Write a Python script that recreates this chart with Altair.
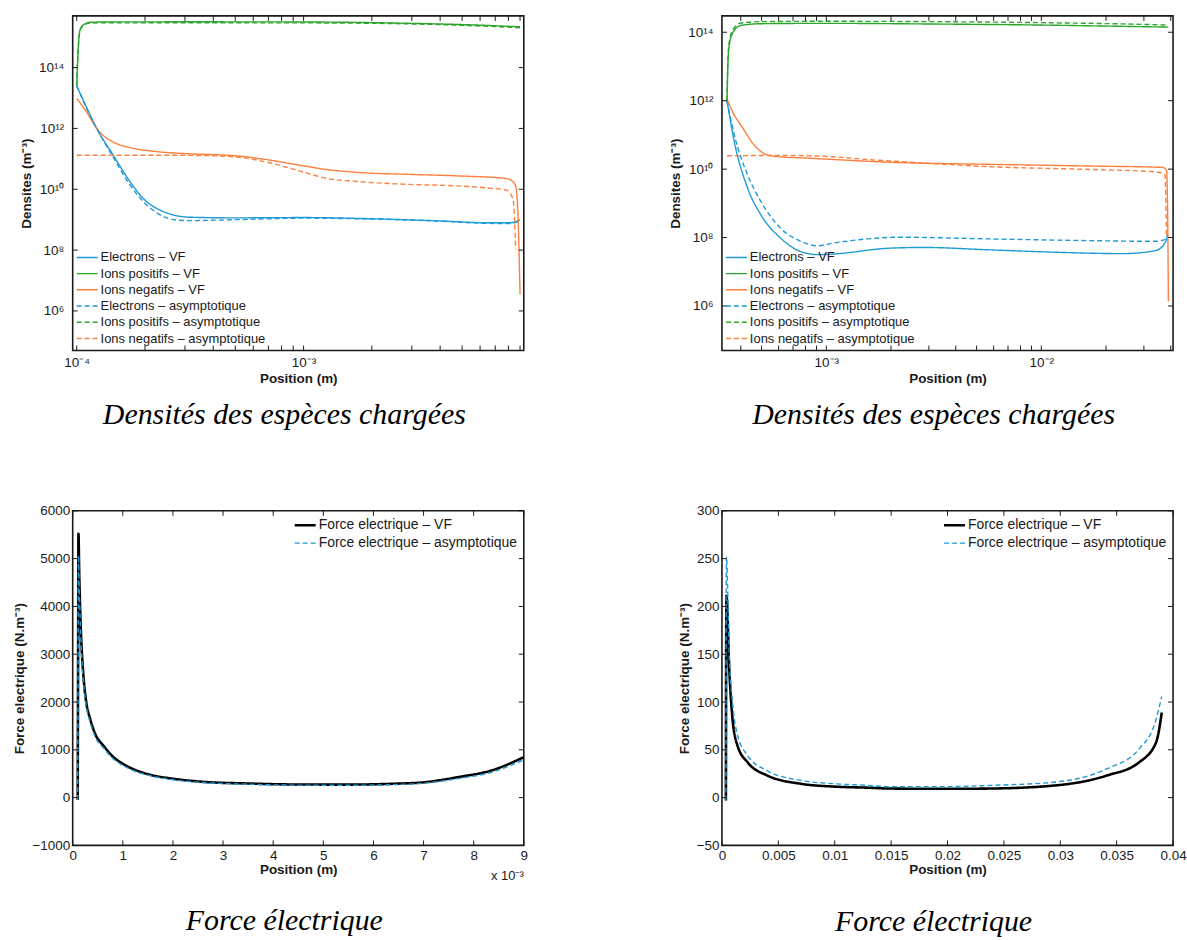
import math

import altair as alt
import pandas as pd

FONT = "Liberation Sans"
CAPTION_FONT = "Liberation Serif"
INK = "#1a1a1a"

# ---------------------------------------------------------------- series styling
SERIES = [
    "Electrons – VF",
    "Ions positifs – VF",
    "Ions negatifs – VF",
    "Electrons – asymptotique",
    "Ions positifs – asymptotique",
    "Ions negatifs – asymptotique",
]
SERIES_COLORS = ["#1e9ad6", "#2ba52b", "#fd7f3d", "#1e9ad6", "#2ba52b", "#fd7f3d"]
SERIES_DASHES = [[1, 0], [1, 0], [1, 0], [5, 3], [5, 3], [5, 3]]

FORCE_SERIES = ["Force electrique – VF", "Force electrique – asymptotique"]
FORCE_COLORS = ["#000000", "#1e9ad6"]
FORCE_DASHES = [[1, 0], [5, 3]]
FORCE_WIDTHS = [2.6, 1.4]

# legend key: a horizontal stroke 1.5x wider than the symbol box
LEGEND_KEY = "M-1.5,0H1.5"

# ---------------------------------------------------------------- short gap (0.1 mm -> 9 mm)
# densities (m^-3) versus position (m)
TL_E_VF_X = [1.0e-4, 1.096e-4, 1.225e-4, 1.449e-4, 1.718e-4, 1.963e-4, 2.404e-4, 3.162e-4,
             5.012e-4, 1.0e-3, 1.995e-3, 3.981e-3, 6.310e-3, 7.943e-3, 8.710e-3, 9.0e-3]
TL_E_VF_Y = [2.51e13, 5.62e12, 1.0e12, 1.318e11, 1.778e10, 5.01e9, 1.862e9, 1.202e9,
             1.148e9, 1.175e9, 1.072e9, 9.12e8, 7.94e8, 7.94e8, 8.71e8, 1.0e9]

TL_E_AS_X = [1.0e-4, 1.096e-4, 1.225e-4, 1.449e-4, 1.718e-4, 1.963e-4, 2.404e-4, 2.818e-4,
             3.162e-4, 5.012e-4, 1.0e-3, 1.995e-3, 3.981e-3, 6.310e-3, 7.943e-3, 8.710e-3, 9.0e-3]
TL_E_AS_Y = [2.51e13, 5.25e12, 1.0e12, 1.122e11, 1.380e10, 3.98e9, 1.288e9, 9.55e8,
             9.33e8, 1.0e9, 1.122e9, 1.047e9, 8.91e8, 7.59e8, 7.41e8, 8.32e8, 9.55e8]

TL_PI_X = [1.0e-4, 1.017e-4, 1.035e-4, 1.072e-4, 1.148e-4, 1.31e-4, 3.162e-4, 1.0e-3,
           3.162e-3, 6.31e-3, 9.0e-3]
TL_PI_VF_Y = [2.51e13, 5.25e14, 1.778e15, 2.57e15, 3.09e15, 3.16e15, 3.2e15, 3.16e15,
              2.82e15, 2.45e15, 2.19e15]
TL_PI_AS_Y = [2.51e13, 5.0e14, 1.70e15, 2.45e15, 2.9e15, 2.95e15, 2.97e15, 2.95e15,
              2.7e15, 2.3e15, 2.04e15]

TL_NI_VF_X = [1.0e-4, 1.107e-4, 1.225e-4, 1.309e-4, 1.449e-4, 1.718e-4, 2.173e-4, 3.041e-4,
              3.606e-4, 5.058e-4, 7.079e-4, 1.0e-3, 1.259e-3, 1.758e-3, 2.911e-3, 4.786e-3,
              7.727e-3, 8.279e-3, 8.610e-3, 8.81e-3, 9.0e-3]
TL_NI_VF_Y = [9.77e12, 3.39e12, 1.0e12, 5.89e11, 3.55e11, 2.34e11, 1.78e11, 1.48e11,
              1.41e11, 1.26e11, 9.12e10, 5.89e10, 4.47e10, 3.55e10, 3.09e10, 2.75e10,
              2.29e10, 1.91e10, 1.26e10, 1.58e9, 3.55e6]

TL_NI_AS_X = [1.0e-4, 1.995e-4, 3.548e-4, 5.058e-4, 7.079e-4, 9.91e-4, 1.259e-3, 1.758e-3,
              2.911e-3, 4.786e-3, 6.761e-3, 7.762e-3, 8.128e-3, 8.414e-3, 8.610e-3]
TL_NI_AS_Y = [1.318e11, 1.318e11, 1.288e11, 1.148e11, 7.41e10, 3.72e10, 2.29e10, 1.78e10,
              1.445e10, 1.288e10, 1.072e10, 9.55e9, 7.41e9, 3.98e9, 1.047e8]

# electric force (N.m^-3) versus position (m)
BL_X = [1.0e-4, 1.08e-4, 1.15e-4, 1.3e-4, 1.5e-4, 1.75e-4, 2.0e-4, 2.3e-4, 2.7e-4, 3.5e-4,
        4.5e-4, 6.2e-4, 8.0e-4, 9.5e-4, 1.2e-3, 1.6e-3, 2.0e-3, 2.6e-3, 3.5e-3, 4.4e-3,
        5.5e-3, 6.4e-3, 7.0e-3, 7.7e-3, 8.36e-3, 9.0e-3]
BL_VF = [-50, 3000, 5520, 4700, 3900, 3200, 2750, 2350, 2000, 1640,
         1330, 1080, 860, 740, 600, 465, 395, 330, 295, 275,
         272, 290, 320, 430, 570, 845]
BL_AS = [-50, 2800, 5070, 4400, 3700, 3050, 2620, 2250, 1920, 1570,
         1270, 1030, 820, 705, 570, 445, 375, 315, 280, 262,
         258, 272, 300, 400, 530, 790]

# ---------------------------------------------------------------- long gap (0.35 mm -> 39 mm)
TR_E_VF_X = [3.451e-4, 3.733e-4, 4.305e-4, 4.966e-4, 6.138e-4, 7.603e-4, 9.078e-4, 1.084e-3,
             1.982e-3, 2.831e-3, 5.768e-3, 1.175e-2, 2.388e-2, 3.404e-2, 3.793e-2, 3.873e-2]
TR_E_VF_Y = [1.0e12, 6.31e10, 2.754e9, 4.571e8, 9.55e7, 3.89e7, 3.162e7, 3.311e7,
             4.898e7, 5.129e7, 4.365e7, 3.715e7, 3.388e7, 4.169e7, 7.762e7, 1.202e8]

TR_E_AS_X = [3.451e-4, 3.733e-4, 4.305e-4, 4.966e-4, 6.138e-4, 7.603e-4, 9.078e-4, 1.084e-3,
             1.549e-3, 2.208e-3, 5.768e-3, 1.675e-2, 3.404e-2, 3.793e-2, 3.873e-2]
TR_E_AS_Y = [1.0e12, 1.0e11, 6.761e9, 1.122e9, 1.862e8, 7.762e7, 5.754e7, 6.918e7,
             9.12e7, 1.023e8, 9.12e7, 8.128e7, 7.762e7, 9.12e7, 1.202e8]

TR_PI_X = [3.451e-4, 3.483e-4, 3.524e-4, 3.681e-4, 4.009e-4, 5.012e-4, 1.0e-3, 3.162e-3,
           1.0e-2, 2.512e-2, 3.9e-2]
TR_PI_VF_Y = [1.0e12, 1.0e13, 3.63e13, 1.0e14, 1.585e14, 1.778e14, 1.82e14, 1.738e14,
              1.622e14, 1.479e14, 1.413e14]
TR_PI_AS_Y = [1.0e12, 1.259e13, 4.467e13, 1.202e14, 1.862e14, 2.042e14, 2.089e14, 2.042e14,
              1.905e14, 1.738e14, 1.622e14]

TR_NI_VF_X = [3.451e-4, 3.715e-4, 4.009e-4, 4.624e-4, 5.333e-4, 6.31e-4, 7.603e-4, 1.084e-3,
              1.982e-3, 5.768e-3, 1.675e-2, 3.656e-2, 3.819e-2, 3.864e-2, 3.9e-2]
TR_NI_VF_Y = [1.122e12, 3.98e11, 1.905e11, 5.01e10, 2.57e10, 2.24e10, 2.14e10, 1.905e10,
              1.585e10, 1.38e10, 1.23e10, 1.122e10, 9.33e9, 1.0e9, 1.38e6]

TR_NI_AS_X = [3.451e-4, 6.31e-4, 1.084e-3, 1.549e-3, 2.208e-3, 5.768e-3, 1.675e-2, 3.404e-2,
              3.758e-2, 3.82e-2]
TR_NI_AS_Y = [2.455e10, 2.512e10, 2.291e10, 1.905e10, 1.66e10, 1.175e10, 9.77e9, 8.32e9,
              6.76e9, 1.202e8]

BR_X = [3.5e-4, 3.7e-4, 4.0e-4, 6.5e-4, 9.4e-4, 1.39e-3, 2.27e-3, 4.04e-3, 6.98e-3, 1.0e-2,
        1.29e-2, 1.49e-2, 2.0e-2, 2.38e-2, 2.96e-2, 3.41e-2, 3.7e-2, 3.85e-2, 3.9e-2]
BR_VF = [-3, 150, 211, 134, 82, 54, 37, 23, 14.5, 11.5,
         10.4, 9.5, 9.2, 9.5, 12.8, 23, 37, 58, 89]
BR_AS = [-3, 170, 252, 148, 99, 65, 44, 28, 18, 14.5,
         12.8, 11.5, 11.5, 12.8, 16.3, 30, 51, 82, 106]

# ---------------------------------------------------------------- axes
TL_X_DOMAIN = [9.6e-5, 9.35e-3]
TR_X_DOMAIN = [3.27e-4, 4.1e-2]
TL_Y_DOMAIN = [5e4, 5e15]
TR_Y_DOMAIN = [5e4, 3e14]
DENSITY_Y_TICKS = [1e6, 1e8, 1e10, 1e12, 1e14]
TL_X_LABELS = [1e-4, 1e-3]
TR_X_LABELS = [1e-3, 1e-2]
LOG_MINOR = [m * 10.0 ** e for e in (-5, -4, -3, -2) for m in range(1, 10)]

BL_X_TICKS = [0, 0.001, 0.002, 0.003, 0.004, 0.005, 0.006, 0.007, 0.008, 0.009]
BL_Y_TICKS = [-1000, 0, 1000, 2000, 3000, 4000, 5000, 6000]
BR_X_TICKS = [0, 0.005, 0.01, 0.015, 0.02, 0.025, 0.03, 0.035, 0.04]
BR_Y_TICKS = [-50, 0, 50, 100, 150, 200, 250, 300]

W = 453
H = 336
TICK = 5

SUPERSCRIPT = str.maketrans("-0123456789", "⁻⁰¹²³⁴⁵⁶⁷⁸⁹")


def power_label_expr(values):
    """Vega expression printing decade ticks as 10 with a superscript exponent."""
    values = sorted(values)
    labels = ["10" + str(round(math.log10(v))).translate(SUPERSCRIPT) for v in values]
    expr = f"'{labels[-1]}'"
    for v, lab in zip(reversed(values[:-1]), reversed(labels[:-1])):
        expr = f"datum.value < {v * 3.1623!r} ? '{lab}' : {expr}"
    return expr


def axis(title, values, label_expr=None, fmt=None, label_padding=4, title_padding=3):
    kw = dict(
        title=title, values=values, ticks=False, domain=False, grid=False,
        labelFont=FONT, labelFontSize=13.5, labelColor=INK,
        titleFont=FONT, titleFontSize=13.5, titleFontWeight="bold", titleColor=INK,
        labelPadding=label_padding, titlePadding=title_padding,
        labelOverlap=False, labelFlush=False,
    )
    if label_expr is not None:
        kw["labelExpr"] = label_expr
    if fmt is not None:
        kw["format"] = fmt
    return alt.Axis(**kw)


def inner_ticks(xvals, yvals, xscale, yscale, xaxis, yaxis, xdom):
    """Short inward ticks on all four sides of the box (axes shared with the curves)."""
    xs = pd.DataFrame({"x": [v for v in xvals if xdom[0] <= v <= xdom[1]]})
    ys = pd.DataFrame({"y": yvals})
    mk = dict(color=INK, strokeWidth=1)
    xe = alt.X("x:Q", scale=xscale, axis=xaxis)
    ye = alt.Y("y:Q", scale=yscale, axis=yaxis)
    return [
        alt.Chart(xs).mark_rule(**mk).encode(x=xe, y=alt.value(H - TICK), y2=alt.value(H)),
        alt.Chart(xs).mark_rule(**mk).encode(x=xe, y=alt.value(0), y2=alt.value(TICK)),
        alt.Chart(ys).mark_rule(**mk).encode(y=ye, x=alt.value(0), x2=alt.value(TICK)),
        alt.Chart(ys).mark_rule(**mk).encode(y=ye, x=alt.value(W - TICK), x2=alt.value(W)),
    ]


def caption(text, offset):
    return alt.TitleParams(
        text, orient="bottom", anchor="middle", font=CAPTION_FONT, fontStyle="italic",
        fontWeight="normal", fontSize=30, color="#000000", offset=offset, dx=-14,
    )


def density_panel(curves, xdom, ydom, xlabels):
    df = pd.concat(
        [pd.DataFrame({"x": xs, "y": ys, "serie": name}) for name, xs, ys in curves],
        ignore_index=True,
    )
    xscale = alt.Scale(type="log", domain=xdom, nice=False)
    yscale = alt.Scale(type="log", domain=ydom, nice=False)
    xaxis = axis("Position (m)", xlabels, power_label_expr(xlabels), label_padding=5)
    yaxis = axis("Densites (m⁻³)", DENSITY_Y_TICKS, power_label_expr(DENSITY_Y_TICKS),
                 label_padding=9, title_padding=5)
    legend = alt.Legend(
        title=None, orient="none", legendX=6.5, legendY=234.5, symbolType=LEGEND_KEY,
        symbolSize=196, symbolStrokeWidth=1.5, labelFont=FONT, labelFontSize=13,
        labelColor=INK, labelLimit=400, rowPadding=1.3, labelOffset=5.5, padding=0,
    )
    lines = alt.Chart(df).mark_line(interpolate="monotone", strokeWidth=1.4, clip=True).encode(
        x=alt.X("x:Q", scale=xscale, axis=xaxis),
        y=alt.Y("y:Q", scale=yscale, axis=yaxis),
        color=alt.Color("serie:N", scale=alt.Scale(domain=SERIES, range=SERIES_COLORS), legend=legend),
        strokeDash=alt.StrokeDash("serie:N", scale=alt.Scale(domain=SERIES, range=SERIES_DASHES),
                                  legend=legend),
    )
    ticks = inner_ticks(LOG_MINOR, DENSITY_Y_TICKS, xscale, yscale, xaxis, yaxis, xdom)
    return alt.layer(lines, *ticks).properties(
        width=W, height=H, title=caption("Densités des espèces chargées", 15)
    )


def force_panel(xs, vf, asym, xdom, ydom, xticks, yticks, x_label_expr, extra=None,
                cap_offset=30):
    df = pd.concat(
        [
            pd.DataFrame({"x": xs, "y": vf, "serie": FORCE_SERIES[0]}),
            pd.DataFrame({"x": xs, "y": asym, "serie": FORCE_SERIES[1]}),
        ],
        ignore_index=True,
    )
    xscale = alt.Scale(domain=xdom, nice=False, zero=False)
    yscale = alt.Scale(domain=ydom, nice=False, zero=False)
    xaxis = axis("Position (m)", xticks, x_label_expr, label_padding=3, title_padding=1)
    yaxis = axis("Force electrique (N.m⁻³)", yticks, fmt="d", label_padding=3, title_padding=5)
    legend = alt.Legend(
        title=None, orient="top-right", offset=6, symbolType=LEGEND_KEY, symbolSize=196,
        labelFont=FONT, labelFontSize=14, labelColor=INK, labelLimit=400, rowPadding=2.4,
        labelOffset=5, padding=0,
    )
    lines = alt.Chart(df).mark_line(interpolate="monotone", clip=True).encode(
        x=alt.X("x:Q", scale=xscale, axis=xaxis),
        y=alt.Y("y:Q", scale=yscale, axis=yaxis),
        color=alt.Color("serie:N", scale=alt.Scale(domain=FORCE_SERIES, range=FORCE_COLORS),
                        legend=legend),
        strokeDash=alt.StrokeDash("serie:N",
                                  scale=alt.Scale(domain=FORCE_SERIES, range=FORCE_DASHES),
                                  legend=legend),
        strokeWidth=alt.StrokeWidth("serie:N",
                                    scale=alt.Scale(domain=FORCE_SERIES, range=FORCE_WIDTHS),
                                    legend=legend),
    )
    layers = [lines, *inner_ticks(xticks, yticks, xscale, yscale, xaxis, yaxis, xdom)]
    if extra is not None:
        layers.append(extra)
    return alt.layer(*layers).properties(
        width=W, height=H, title=caption("Force électrique", cap_offset)
    )


tl = density_panel(
    [
        (SERIES[0], TL_E_VF_X, TL_E_VF_Y),
        (SERIES[1], TL_PI_X, TL_PI_VF_Y),
        (SERIES[2], TL_NI_VF_X, TL_NI_VF_Y),
        (SERIES[3], TL_E_AS_X, TL_E_AS_Y),
        (SERIES[4], TL_PI_X, TL_PI_AS_Y),
        (SERIES[5], TL_NI_AS_X, TL_NI_AS_Y),
    ],
    TL_X_DOMAIN, TL_Y_DOMAIN, TL_X_LABELS,
)

tr = density_panel(
    [
        (SERIES[0], TR_E_VF_X, TR_E_VF_Y),
        (SERIES[1], TR_PI_X, TR_PI_VF_Y),
        (SERIES[2], TR_NI_VF_X, TR_NI_VF_Y),
        (SERIES[3], TR_E_AS_X, TR_E_AS_Y),
        (SERIES[4], TR_PI_X, TR_PI_AS_Y),
        (SERIES[5], TR_NI_AS_X, TR_NI_AS_Y),
    ],
    TR_X_DOMAIN, TR_Y_DOMAIN, TR_X_LABELS,
)

# common exponent printed under the right end of the short-gap force axis
exponent_note = alt.Chart(pd.DataFrame({"t": ["x 10⁻³"]})).mark_text(
    align="right", baseline="middle", font=FONT, fontSize=13, color=INK
).encode(text="t:N", x=alt.value(W), y=alt.value(H + 31))

bl = force_panel(BL_X, BL_VF, BL_AS, [0, 0.009], [-1000, 6000], BL_X_TICKS, BL_Y_TICKS,
                 "format(datum.value * 1000, 'd')", extra=exponent_note, cap_offset=23)
br = force_panel(BR_X, BR_VF, BR_AS, [0, 0.04], [-50, 300], BR_X_TICKS, BR_Y_TICKS,
                 "format(datum.value, '~g')", cap_offset=31)

INDEPENDENT = dict(color="independent", strokeDash="independent", strokeWidth="independent")

chart = (
    alt.concat(tl, tr, bl, br, columns=2, spacing={"row": 161, "column": 199}, bounds="flush")
    .resolve_scale(x="independent", y="independent", **INDEPENDENT)
    .resolve_legend(**INDEPENDENT)
    .properties(padding={"left": 12, "top": 12, "right": 0, "bottom": 0}, background="white")
    .configure_view(stroke=INK, strokeWidth=1.6)
)

chart.save("out.html", embed_options={"renderer": "svg", "actions": False})
